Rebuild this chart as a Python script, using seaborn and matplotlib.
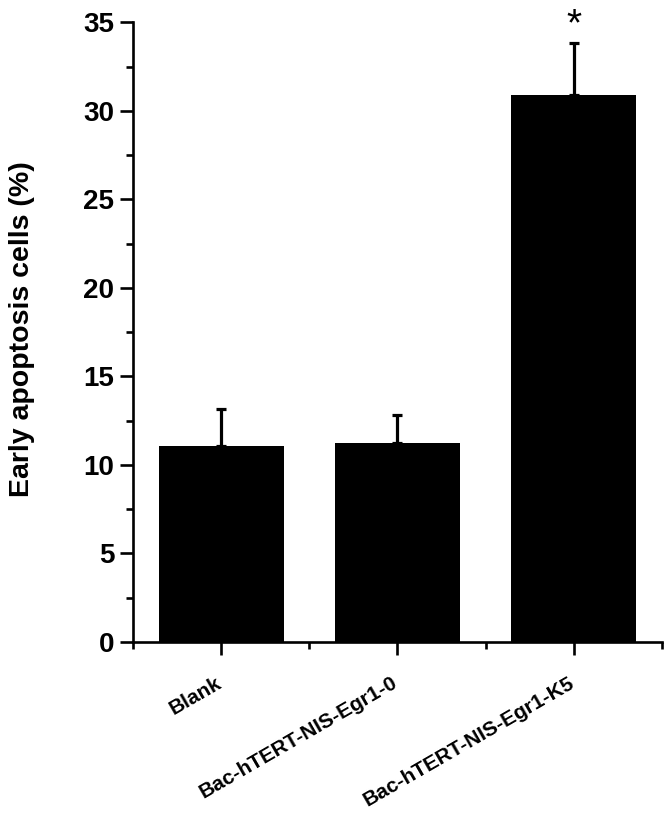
import matplotlib
matplotlib.use("Agg")
import matplotlib.pyplot as plt
import matplotlib.transforms as mtrans
import seaborn as sns
import pandas as pd
from matplotlib.ticker import MultipleLocator, FixedLocator

# values
groups = ["Blank", "Bac-hTERT-NIS-Egr1-0", "Bac-hTERT-NIS-Egr1-K5"]
means = [11.05, 11.25, 30.9]
errs = [2.1, 1.55, 2.9]
marks = ["", "", "*"]

df = pd.DataFrame({"group": groups, "value": means})

sns.set_style("ticks")
plt.rcParams["font.family"] = ["Liberation Sans", "DejaVu Sans"]
plt.rcParams["font.weight"] = "bold"
plt.rcParams.update({"text.color": "black", "axes.labelcolor": "black",
                     "xtick.color": "black", "ytick.color": "black",
                     "axes.edgecolor": "black"})

fig = plt.figure(figsize=(6.72, 8.24), dpi=100)
ax = fig.add_axes([0.198, 0.221, 0.787, 0.752])

sns.barplot(data=df, x="group", y="value", color="black", width=0.71,
            saturation=1, errorbar=None, ax=ax)
for p in ax.patches:
    p.set_edgecolor("none")

# upper error bars only
ax.errorbar(range(len(groups)), means, yerr=[[0] * len(groups), errs],
            fmt="none", ecolor="black", elinewidth=2.3, capsize=3.8,
            capthick=2.3, zorder=1)

for i, m in enumerate(marks):
    if m:
        ax.text(i, means[i] + errs[i] + 1.0, m, ha="center", va="center",
                fontsize=28, fontweight="normal")

ax.set_xlim(-0.5, 2.5)
ax.set_ylim(0, 35)
ax.yaxis.set_major_locator(MultipleLocator(5))
ax.yaxis.set_minor_locator(MultipleLocator(2.5))
ax.xaxis.set_minor_locator(FixedLocator([-0.5, 0.5, 1.5, 2.5]))

sns.despine(ax=ax)
for s in ["left", "bottom"]:
    ax.spines[s].set_linewidth(1.9)
ax.tick_params(axis="both", which="major", length=9.5, width=1.9,
               direction="out")
ax.tick_params(axis="both", which="minor", length=5, width=1.9,
               direction="out")
ax.tick_params(axis="y", labelsize=20, pad=4)
ax.tick_params(axis="x", labelsize=15, pad=13)

ax.set_xticks(range(len(groups)))
ax.set_xticklabels(groups, rotation=30, ha="right", rotation_mode="anchor",
                   fontweight="bold")
shift = mtrans.ScaledTranslation(-6 / 100, 0, fig.dpi_scale_trans)
for lbl in ax.get_xticklabels():
    lbl.set_transform(lbl.get_transform() + shift)
for lbl in ax.get_yticklabels():
    lbl.set_fontweight("bold")

ax.set_xlabel("")
ax.set_ylabel("Early apoptosis cells (%)", fontsize=20.5, fontweight="bold")
ax.yaxis.set_label_coords(-0.185, 0.505)

fig.savefig("out.png", dpi=100)
